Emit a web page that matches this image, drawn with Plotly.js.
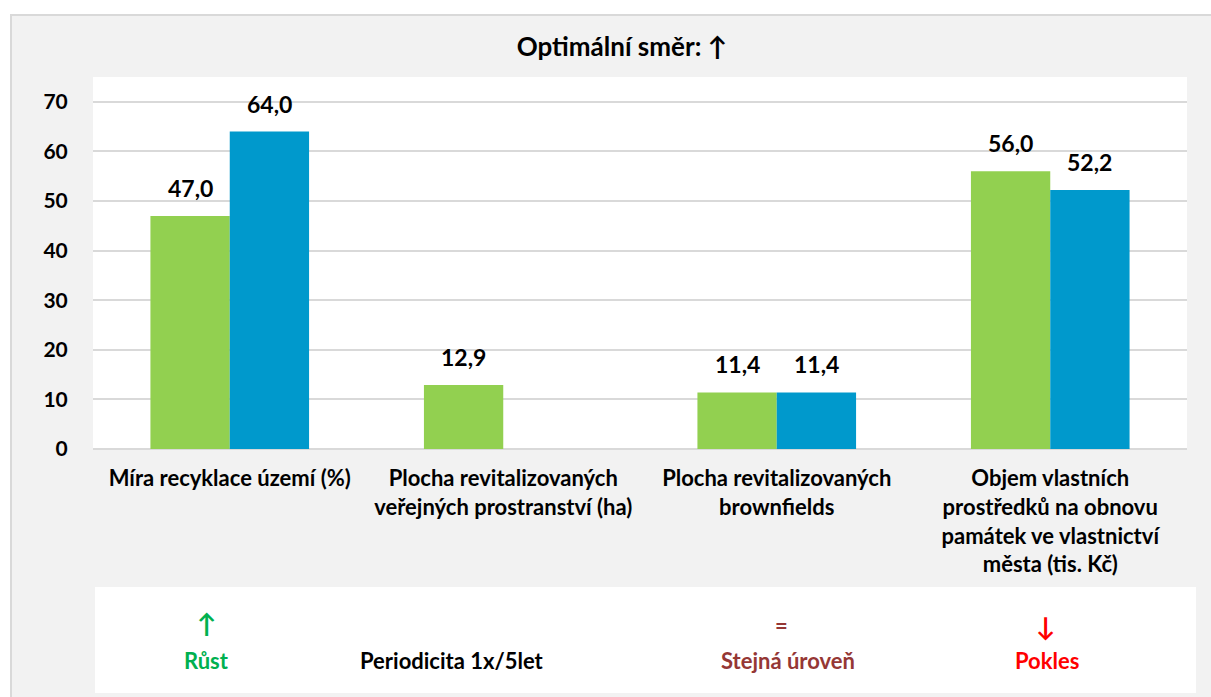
<!DOCTYPE html>
<html>
<head>
<meta charset="utf-8">
<script src="https://cdn.plot.ly/plotly-3.0.1.min.js"></script>
<style>
  body { margin: 0; background: #ffffff; }
  #chart {
    position: absolute; left: 10px; top: 14px;
    width: 1199px; height: 681px;
    border-left: 2px solid #d9d9d9; border-top: 2px solid #d9d9d9;
  }
</style>
</head>
<body>
<div id="chart"></div>
<script>
// indikátory
const categories = [
    "Míra recyklace území (%)",
    "Plocha revitalizovaných<br>veřejných prostranství (ha)",
    "Plocha revitalizovaných<br>brownfields",
    "Objem vlastních<br>prostředků na obnovu<br>památek ve vlastnictví<br>města (tis. Kč)"
];
const valuesGreen = [47.0, 12.9, 11.4, 56.0];
const valuesBlue = [64.0, null, 11.4, 52.2];
const yTicks = [0, 10, 20, 30, 40, 50, 60, 70];

const font = "Lato, 'Open Sans', sans-serif";
const W = 1199, H = 681;
const margin = { l: 81, r: 24, t: 61, b: 248 };
const bargap = 0.42;

const traces = [
    { type: "bar", x: categories, y: valuesGreen, marker: { color: "#92D050" }, hoverinfo: "y" },
    { type: "bar", x: categories, y: valuesBlue, marker: { color: "#0099CC" }, hoverinfo: "y" }
];

// popisky hodnot nad sloupci (posun podle šířky sloupce)
const barPx = (W - margin.l - margin.r) / categories.length * (1 - bargap) / 2;
const valueLabels = [];
[valuesGreen, valuesBlue].forEach((vals, s) => {
    vals.forEach((v, i) => {
        if (v === null) return;
        valueLabels.push({
            x: categories[i], y: v, xref: "x", yref: "y",
            text: v.toFixed(1).replace(".", ","),
            showarrow: false, xanchor: "center", yanchor: "bottom",
            xshift: (s - 0.5) * barPx, yshift: 12,
            font: { family: font, size: 23, color: "#000", weight: "bold" }
        });
    });
});

// legenda dole
const legendItems = [
    { text: "↑", x: 0.104, y: -0.468, color: "#00B050", size: 26 },
    { text: "Růst", x: 0.104, y: -0.568, color: "#00B050" },
    { text: "Periodicita 1x/5let", x: 0.328, y: -0.568, color: "#000000" },
    { text: "=", x: 0.629, y: -0.475, color: "#953735" },
    { text: "Stejná úroveň", x: 0.635, y: -0.568, color: "#953735" },
    { text: "↓", x: 0.871, y: -0.476, color: "#FF0000", size: 26 },
    { text: "Pokles", x: 0.872, y: -0.568, color: "#FF0000" }
].map(a => ({
    text: a.text, x: a.x, y: a.y, xref: "paper", yref: "paper",
    showarrow: false, xanchor: "center", yanchor: "middle",
    font: { family: font, size: a.size || 22, color: a.color, weight: "bold" }
}));

const layout = {
    width: W, height: H,
    margin: margin,
    paper_bgcolor: "#f2f2f2",
    plot_bgcolor: "#ffffff",
    separators: ", ",
    barmode: "group",
    bargap: bargap,
    bargroupgap: 0,
    showlegend: false,
    font: { family: font, size: 20, color: "#000", weight: "bold" },
    title: {
        text: "Optimální směr: ↑",
        x: 0.4835, xref: "paper", xanchor: "center", y: 0.955, yanchor: "middle",
        font: { family: font, size: 26, color: "#000", weight: "bold" }
    },
    xaxis: {
        type: "category",
        ticks: "outside", ticklen: 10, tickcolor: "rgba(0,0,0,0)",
        tickfont: { family: font, size: 22, color: "#000", weight: "bold" },
        showline: false, showgrid: false
    },
    yaxis: {
        range: [0, 75],
        tickvals: yTicks,
        ticks: "outside", ticklen: 20, tickcolor: "rgba(0,0,0,0)",
        tickfont: { family: font, size: 21, color: "#000", weight: "bold" },
        showgrid: true, gridcolor: "#d9d9d9", gridwidth: 2,
        zeroline: true, zerolinecolor: "#d9d9d9", zerolinewidth: 2,
        showline: false
    },
    shapes: [{
        type: "rect", xref: "paper", yref: "paper",
        x0: 0.0018, x1: 1.0082, y0: -0.656, y1: -0.371,
        fillcolor: "#ffffff", line: { width: 0 }, layer: "below"
    }],
    annotations: valueLabels.concat(legendItems)
};

Plotly.newPlot("chart", traces, layout, { displayModeBar: false, responsive: false });
</script>
</body>
</html>
